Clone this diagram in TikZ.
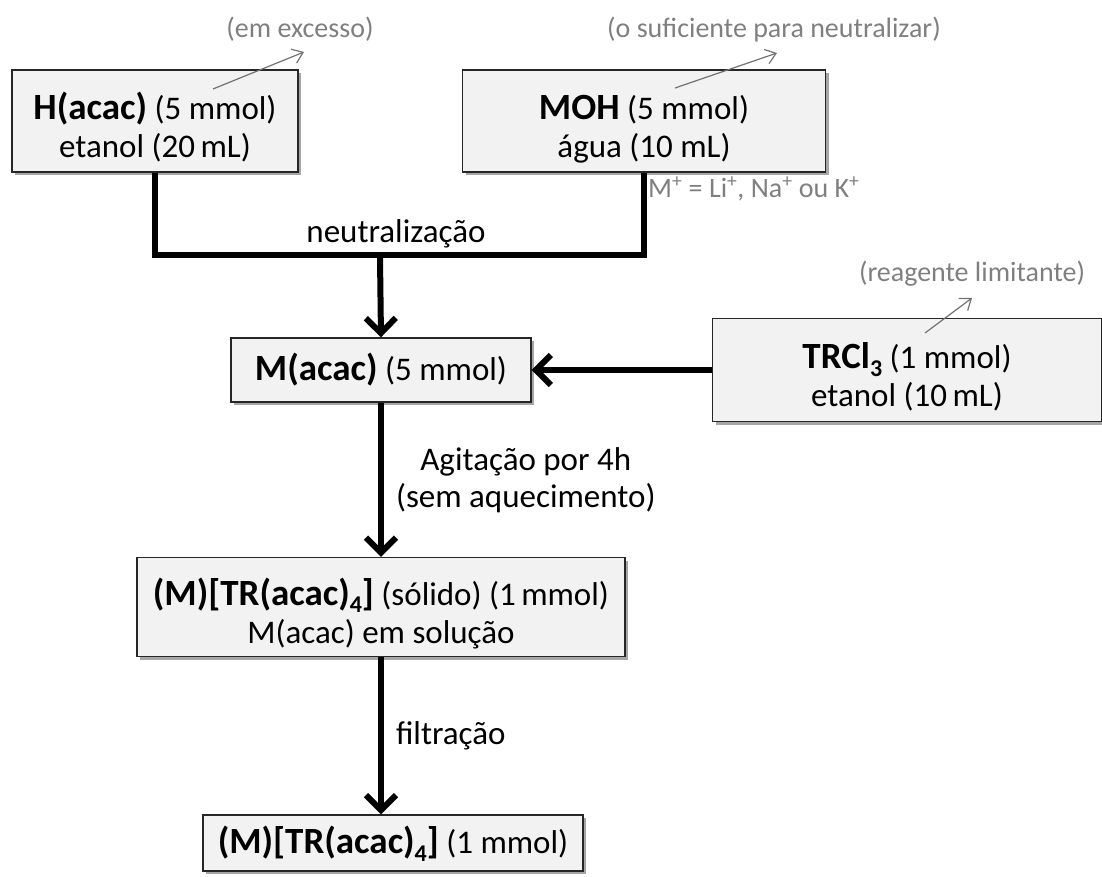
\documentclass[tikz,border=0pt]{standalone}
\usepackage{fontspec}
\setmainfont{Carlito}
\usepackage{xcolor}
\usepackage{tikz}
\usetikzlibrary{arrows.meta, positioning, shadows}
\definecolor{boxgray}{HTML}{F2F2F2}
\definecolor{notegray}{HTML}{7F7F7F}
\definecolor{edgegray}{HTML}{262626}
\newcommand{\chem}[1]{{\fontsize{37}{37}\selectfont\bfseries #1}}
\newcommand{\lowsub}[1]{\raisebox{-0.2em}[\height][0pt]{\fontsize{24}{24}\selectfont #1}}
\newcommand{\topstrut}{\rule{0pt}{40pt}}

\begin{document}
\begin{tikzpicture}[
  x=1pt, y=-1pt,
  box/.style={rectangle, draw=edgegray, line width=1.4pt, fill=boxgray,
              align=center, inner sep=0pt,
              font=\fontsize{33}{38}\selectfont,
              drop shadow={shadow xshift=3pt, shadow yshift=-3pt,
                           fill=black, opacity=0.35}},
  flow/.style={-{Straight Barb[length=15pt, width=30pt]}, line width=6pt},
  bar/.style={line width=6pt},
  note/.style={-{Straight Barb[length=10pt, width=15pt]}, notegray!90!black,
               line width=1.2pt},
  notetext/.style={font=\fontsize{28}{30}\selectfont, text=notegray,
                   inner sep=0pt},
  lbl/.style={font=\fontsize{33}{37}\selectfont, align=center, inner sep=0pt},
]
  \useasboundingbox (0,0) rectangle (1102,877);

  %% ── Reagent boxes (top row) ─────────────────────────────────────────────
  \node[box, minimum width=286pt, minimum height=102pt] (hacac) at (155,121)
    {\topstrut\chem{H(acac)} (5 mmol)\\etanol (20\,mL)};
  \node[box, minimum width=363pt, minimum height=102pt] (moh) at (644,121)
    {\topstrut\chem{MOH} (5 mmol)\\água (10 mL)};

  %% ── Main column (x=380) ─────────────────────────────────────────────────
  \node[box, minimum width=300pt, minimum height=64pt] (macac) at (381,370)
    {\chem{M(acac)} (5 mmol)};
  \node[box, minimum width=389pt, minimum height=103pt] (trcl) at (907,370)
    {\topstrut\chem{TRCl\lowsub{3}} (1 mmol)\\etanol (10\,mL)};
  \node[box, minimum width=488pt, minimum height=99pt] (cplx) at (381,607)
    {\topstrut\chem{(M)[TR(acac)\lowsub{4}]} (sólido) (1\,mmol)\\M(acac) em solução};
  \node[box, minimum width=380pt, minimum height=56pt] (prod) at (393,843)
    {\chem{(M)[TR(acac)\lowsub{4}]} (1 mmol)};

  %% ── Notes (grey) ────────────────────────────────────────────────────────
  \node[notetext, anchor=south] (exc)  at (300,42) {(em excesso)};
  \node[notetext, anchor=south] (suf)  at (774,42) {(o suficiente para neutralizar)};
  \node[notetext, anchor=south] (lim)  at (972,287) {(reagente limitante)};
  \node[notetext, anchor=north west] (ions) at (648,177)
    {M\textsuperscript{+} = Li\textsuperscript{+}, Na\textsuperscript{+} ou K\textsuperscript{+}};

  \coordinate (n1) at (213,89);
  \coordinate (n2) at (675,88);
  \coordinate (n3) at (925,333);
  \draw[note] (n1) -- ([xshift=4pt,yshift=-10pt]exc.south);
  \draw[note] (n2) -- ([xshift=3pt,yshift=-11pt]suf.south);
  \draw[note] (n3) -- ([yshift=-11pt]lim.south);

  %% ── Neutralization junction ─────────────────────────────────────────────
  \coordinate (junc) at (380,255);
  \draw[bar] (hacac.south) -- (hacac.south |- junc) -- (moh.south |- junc)
             -- (moh.south);
  \node[lbl, anchor=base] (neut) at (396,243) {neutralização};
  \draw[flow] ([yshift=-3pt]junc) -- (macac.north);

  %% ── Flow arrows ─────────────────────────────────────────────────────────
  \draw[flow] (trcl.west) -- (macac.east);
  \draw[flow] (macac.south) -- node[lbl, right=12pt]
    {Agitação por 4h\\(sem aquecimento)} (cplx.north);
  \draw[flow] (cplx.south) -- node[lbl, right=12pt]{filtração}
    (cplx.south |- prod.north);

\end{tikzpicture}
\end{document}
